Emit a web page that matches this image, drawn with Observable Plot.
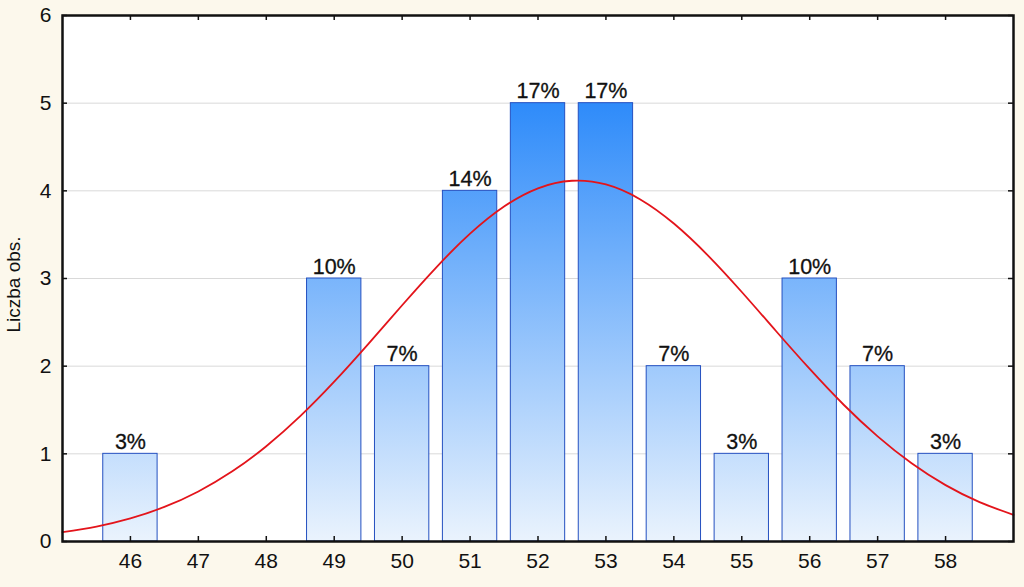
<!DOCTYPE html>
<html><head><meta charset="utf-8">
<script src="https://cdn.jsdelivr.net/npm/d3@7"></script>
<script src="https://cdn.jsdelivr.net/npm/@observablehq/plot@0.6"></script>
<style>html,body{margin:0;padding:0;background:#FCF8EC;overflow:hidden;}</style>
</head><body><div id="chart"></div>
<script>
const categories = [46, 47, 48, 49, 50, 51, 52, 53, 54, 55, 56, 57, 58];
const counts = [1, 0, 0, 3, 2, 4, 5, 5, 2, 1, 3, 2, 1];
const percentLabels = ["3%", "", "", "10%", "7%", "14%", "17%", "17%", "7%", "3%", "10%", "7%", "3%"];
const yTicks = [0, 1, 2, 3, 4, 5, 6];
const gridValues = [1, 2, 3, 4, 5];
const yTitle = "Liczba obs.";
const curveX = [45, 45.5, 46, 46.5, 47, 47.5, 48, 48.5, 49, 49.5, 50, 50.5, 51, 51.5, 52, 52.5, 53, 53.5, 54, 54.5, 55, 55.5, 56, 56.5, 57, 57.5, 58, 58.5, 59];
const curveY = [0.107, 0.171, 0.264, 0.394, 0.571, 0.800, 1.087, 1.430, 1.823, 2.252, 2.695, 3.125, 3.511, 3.821, 4.029, 4.115, 4.073, 3.905, 3.627, 3.264, 2.846, 2.404, 1.968, 1.560, 1.199, 0.892, 0.643, 0.449, 0.304];

const bars = categories.map((c, i) => ({x: c, n: counts[i], label: percentLabels[i]})).filter(d => d.n > 0);
const curve = curveX.map((x, i) => ({x, y: curveY[i]}));
const halfWidth = 0.4;
const FONT = "'Liberation Sans', Arial, sans-serif";
const innerW = 1024 - 62 - 11;
const innerH = 587 - 15 - 46;
const tickLen = 5;

const chart = Plot.plot({
  width: 1024,
  height: 587,
  marginLeft: 62,
  marginRight: 11,
  marginTop: 15,
  marginBottom: 46,
  style: {background: "#FCF8EC", fontFamily: FONT, fontSize: "21px", color: "#111"},
  x: {domain: [45, 59]},
  y: {domain: [0, 6]},
  marks: [
    Plot.frame({fill: "white", stroke: "none"}),
    Plot.ruleY(gridValues, {stroke: "#d9d9d9", strokeWidth: 1}),
    Plot.rectY(bars, {x1: d => d.x - halfWidth, x2: d => d.x + halfWidth, y1: 0, y2: "n", fill: "url(#barGrad)", stroke: "#2450C0", strokeWidth: 1}),
    Plot.line(curve, {x: "x", y: "y", stroke: "#E3141B", strokeWidth: 1.8, curve: "natural"}),
    Plot.text(bars, {x: "x", y: "n", text: "label", lineAnchor: "bottom", dy: -5, fontSize: "21.5px", fontFamily: FONT, fill: "#111", stroke: "#111", strokeWidth: 0.3}),
    Plot.axisX(categories, {anchor: "bottom", tickSize: 0, tickPadding: 12, tickFormat: d => String(d), fontSize: "21px", fontFamily: FONT, label: null}),
    Plot.axisY(yTicks, {anchor: "left", tickSize: 0, tickPadding: 11, tickFormat: d => String(d), fontSize: "21px", fontFamily: FONT, label: null}),
    Plot.ruleX(categories, {stroke: "#111", strokeWidth: 1.5, insetTop: innerH - tickLen}),
    Plot.ruleX(categories, {stroke: "#111", strokeWidth: 1.5, insetBottom: innerH - tickLen}),
    Plot.ruleY(yTicks, {stroke: "#111", strokeWidth: 1.5, insetRight: innerW - tickLen}),
    Plot.ruleY(yTicks, {stroke: "#111", strokeWidth: 1.5, insetLeft: innerW - tickLen}),
    Plot.text([yTitle], {frameAnchor: "left", textAnchor: "middle", rotate: -90, dx: -49, dy: 6, fontSize: 19, fontFamily: FONT, fill: "#111"}),
    Plot.frame({stroke: "#111", strokeWidth: 2.5})
  ]
});

const yScale = chart.scale("y");
const svg = d3.select(chart);
const defs = svg.insert("defs", ":first-child");
const grad = defs.append("linearGradient")
  .attr("id", "barGrad")
  .attr("gradientUnits", "userSpaceOnUse")
  .attr("x1", 0).attr("x2", 0)
  .attr("y1", yScale.apply(0)).attr("y2", yScale.apply(5));
grad.append("stop").attr("offset", "0%").attr("stop-color", "#EAF3FD");
grad.append("stop").attr("offset", "100%").attr("stop-color", "#2E8BFA");

document.getElementById("chart").appendChild(chart);
</script>
</body></html>
